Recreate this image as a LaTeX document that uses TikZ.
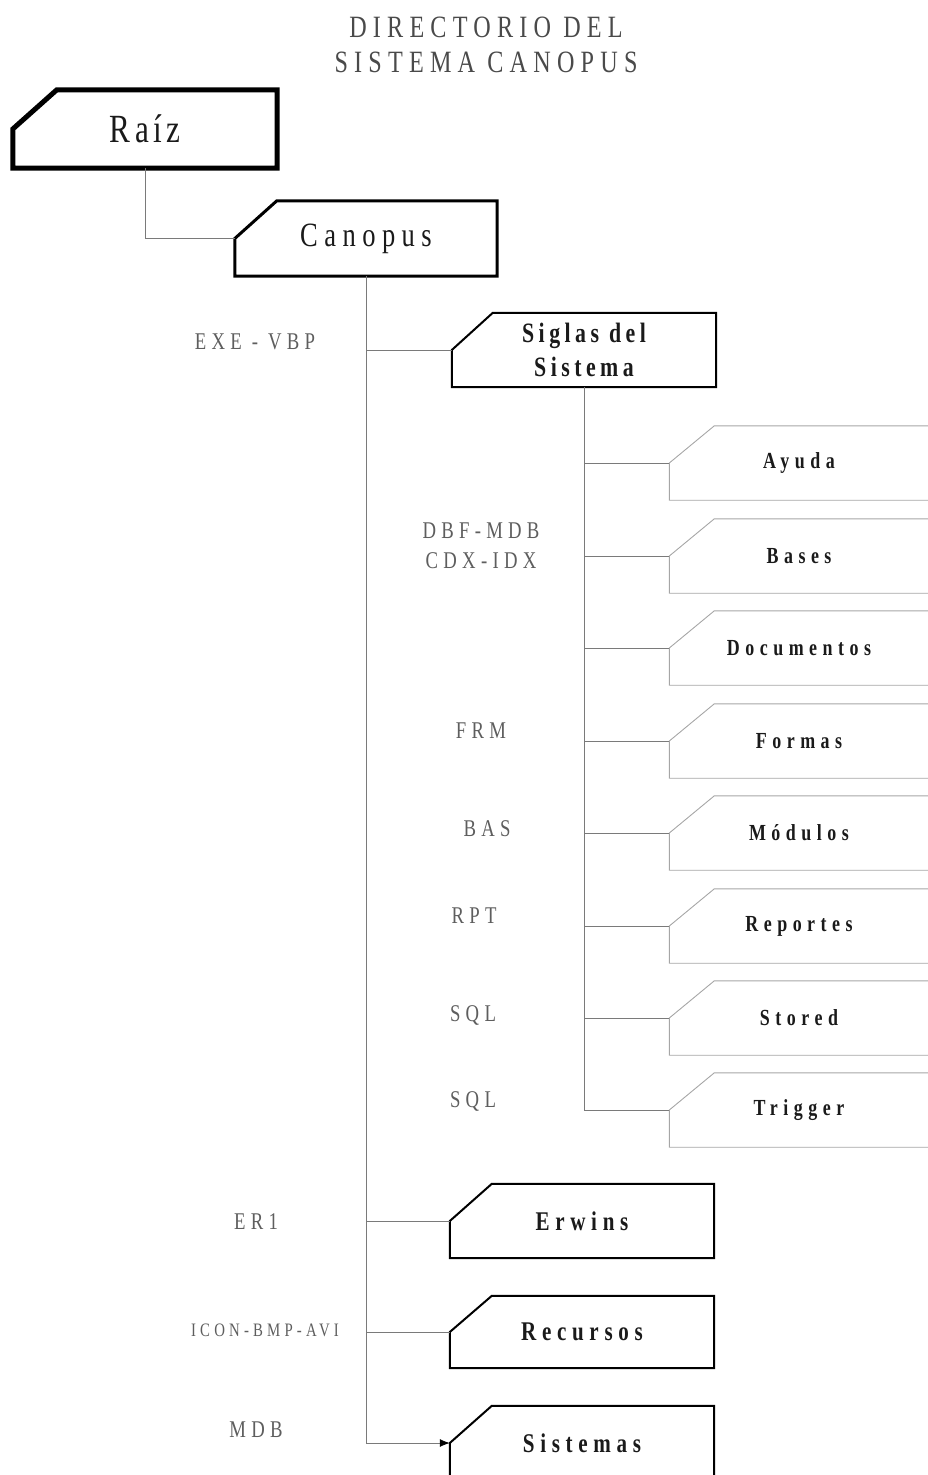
\documentclass[tikz,border=0pt]{standalone}
\usepackage{fontspec}
\usetikzlibrary{calc,arrows.meta}
\newfontfamily\condserif[FakeStretch=0.78]{Liberation Serif}
\newcommand\fsz[3]{\condserif\fontsize{#1}{#2}\selectfont\addfontfeature{LetterSpace=#3}}
\definecolor{ttl}{HTML}{4A4A4A}
\definecolor{ext}{HTML}{5E5E5E}
\definecolor{ink}{HTML}{1A1A1A}
\definecolor{conn}{HTML}{7A7A7A}
\newcommand\chbox[3][]{\draw[#1] ($(#2.north west)+(#3,0)$) -- (#2.north east) -- (#2.south east) -- (#2.south west) -- (#2.west) -- cycle;}
\newcommand\chopen[3][]{\draw[#1] (#2.north east) -- ($(#2.north west)+(#3,0)$) -- (#2.west) -- (#2.south west) -- (#2.south east);}
\tikzset{
  boxnode/.style={draw=none,inner sep=0pt,text=ink,align=center},
  subnode/.style={boxnode,minimum width=259pt,minimum height=74pt,font={\bfseries\fsz{23}{28}{24}}},
  lownode/.style={boxnode,minimum width=264pt,minimum height=74pt,font={\bfseries\fsz{27}{32}{21}}},
  extlabel/.style={text=ext,inner sep=0pt,align=center,font={\fsz{24}{30}{22}}},
  connector/.style={draw=conn,line width=0.8pt},
  subline/.style={draw=gray!70,line width=0.9pt,line join=miter},
  mainline/.style={draw=black,line join=miter}
}
\begin{document}
\begin{tikzpicture}[x=1pt,y=-1pt]
\useasboundingbox (0,0) rectangle (927,1475);
% title
\node[text=ttl,align=center,font={\fsz{31}{35}{20}}] (title) at (486,45) {DIRECTORIO DEL\\SISTEMA CANOPUS};
% main boxes
\node[boxnode,minimum width=264pt,minimum height=78pt,font={\fsz{40}{44}{11}}] (raiz) at (145,129) {Raíz};
\node[boxnode,minimum width=262pt,minimum height=75pt,font={\fsz{34}{38}{19}}] (canopus) at (366,238.5) {Canopus};
\node[boxnode,minimum width=264pt,minimum height=74pt,font={\bfseries\fsz{28}{34}{16}}] (siglas) at (584,350) {Siglas del\\Sistema};
\node[lownode] (erwins) at (582,1221) {Erwins};
\node[lownode,minimum height=72pt] (recursos) at (582,1332) {Recursos};
\node[lownode] (sistemas) at (582,1443) {Sistemas};
\chbox[mainline,line width=5pt]{raiz}{44}
\chbox[mainline,line width=3pt]{canopus}{42}
\chbox[mainline,line width=2pt]{siglas}{41}
\chbox[mainline,line width=2pt]{erwins}{42}
\chbox[mainline,line width=2pt]{recursos}{42}
\chbox[mainline,line width=2pt]{sistemas}{42}
% sub boxes
\node[subnode] (ayuda) at (799,463) {Ayuda};
\node[subnode] (bases) at (799,556) {Bases};
\node[subnode] (docs) at (799,648) {Documentos};
\node[subnode] (formas) at (799,741) {Formas};
\node[subnode] (modulos) at (799,833) {Módulos};
\node[subnode] (reportes) at (799,926) {Reportes};
\node[subnode] (stored) at (799,1018) {Stored};
\node[subnode] (trigger) at (799,1110) {Trigger};
\foreach \b in {ayuda,bases,docs,formas,modulos,reportes,stored,trigger}{\chopen[subline]{\b}{45}}
% connectors
\draw[connector] (raiz.south) |- (canopus.west);
\draw[connector] (canopus.south) |- (siglas.west);
\draw[connector] (canopus.south) |- (erwins.west);
\draw[connector] (canopus.south) |- (recursos.west);
\draw[connector,-{Latex[length=10pt,width=8pt,fill=black,color=black]}] (canopus.south) |- (sistemas.west);
\foreach \b in {ayuda,bases,docs,formas,modulos,reportes,stored,trigger}{\draw[connector] (siglas.south) |- (\b.west);}
% extension labels
\node[extlabel] (lexe) at (255,342) {EXE - VBP};
\node[extlabel] (ldbf) at (481,546) {DBF-MDB\\CDX-IDX};
\node[extlabel] (lfrm) at (481,731) {FRM};
\node[extlabel] (lbas) at (487,829) {BAS};
\node[extlabel] (lrpt) at (474,916) {RPT};
\node[extlabel] (lsql1) at (473,1015) {SQL};
\node[extlabel] (lsql2) at (473,1101) {SQL};
\node[extlabel] (ler) at (256,1222) {ER1};
\node[extlabel,font={\fsz{19}{24}{22}}] (licon) at (265,1330) {ICON-BMP-AVI};
\node[extlabel] (lmdb) at (256,1430) {MDB};
\end{tikzpicture}
\end{document}
